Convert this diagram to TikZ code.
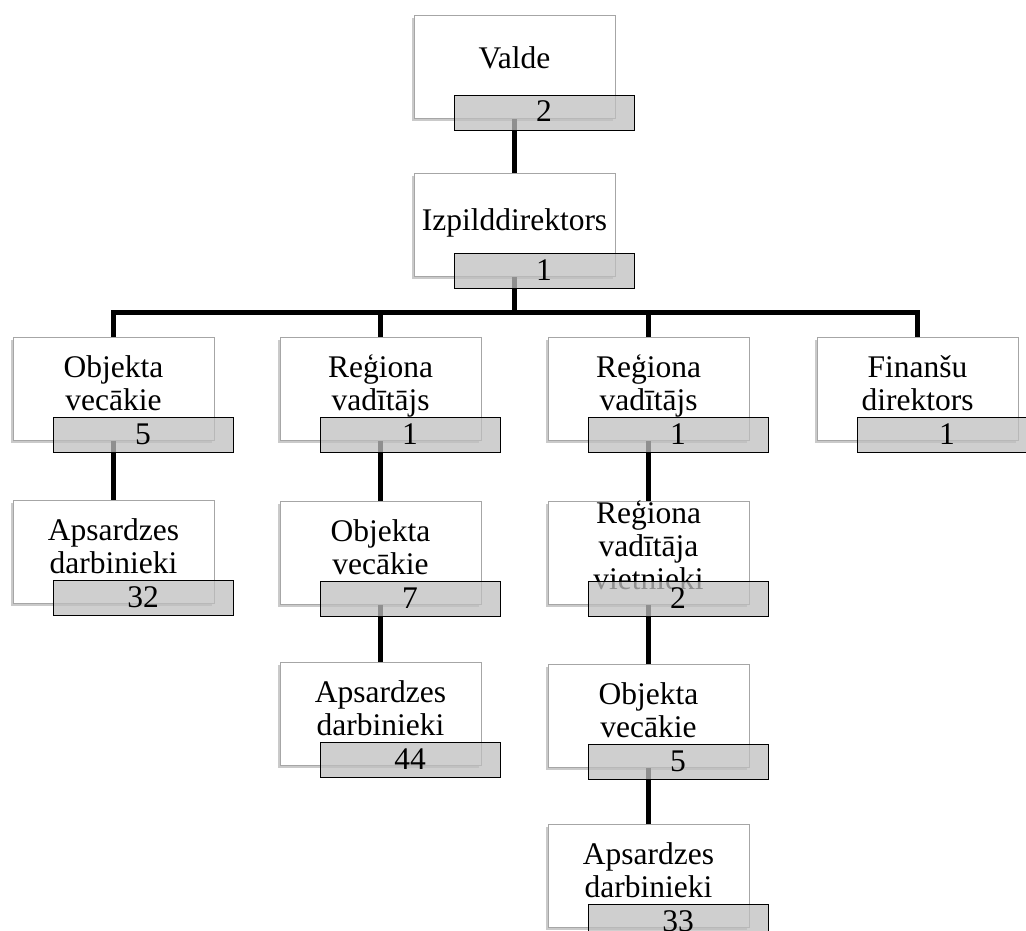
\documentclass[tikz,border=0pt]{standalone}
\usepackage{fontspec}
\setmainfont{Liberation Serif}
\usetikzlibrary{shadows}
\definecolor{boxline}{HTML}{A6A6A6}
\definecolor{numfill}{HTML}{BFBFBF}
\tikzset{
  wbox/.style={rectangle, draw=boxline, line width=0.8pt, fill=white,
    minimum width=201, minimum height=103, anchor=north west, inner sep=0pt,
    drop shadow={shadow xshift=-2pt, shadow yshift=-3pt, opacity=0.35, fill=black!60}},
  gbox/.style={rectangle, draw=black, line width=1.4pt, fill=numfill, fill opacity=0.75,
    text opacity=1, minimum width=180, minimum height=35, anchor=north west, inner sep=0pt},
  lbl/.style={inner sep=0pt, anchor=base, font=\fontsize{31.5}{33}\selectfont},
  numlbl/.style={inner sep=0pt, anchor=base, font=\fontsize{31.5}{33}\selectfont},
  conn/.style={draw=black, line width=5pt}
}
\newcommand\wunit[5]{%
  \node[wbox] (#1) at (#2,#3) {};
  \node[lbl] (#1t) at ([shift={(100.5,#4)}]#1.north west)
    {\begin{tabular}[t]{@{}c@{}}#5\end{tabular}};
}
\newcommand\gunit[2]{%
  \node[gbox] (#1n) at ([shift={(40,80)}]#1.north west) {};
  \node[numlbl] (#1d) at ([shift={(90,27)}]#1n.north west) {#2};
}
\begin{document}
\begin{tikzpicture}[x=1pt,y=-1pt]
\useasboundingbox (0,0) rectangle (1026,931);
\clip (0,0) rectangle (1026,931);
% white boxes with text
\wunit{V}{414}{15}{54}{Valde}
\wunit{I}{414}{173}{57}{Izpilddirektors}
\wunit{A1}{13}{337}{40}{Objekta\\vecākie}
\wunit{A2}{280}{337}{40}{Reģiona\\vadītājs}
\wunit{A3}{548}{337}{40}{Reģiona\\vadītājs}
\wunit{A4}{817}{337}{40}{Finanšu\\direktors}
\wunit{B1}{13}{500}{40}{Apsardzes\\darbinieki}
\wunit{B2}{280}{501}{40}{Objekta\\vecākie}
\wunit{B3}{548}{501}{22}{Reģiona\\vadītāja\\vietnieki}
\wunit{C2}{280}{662}{40}{Apsardzes\\darbinieki}
\wunit{C3}{548}{664}{40}{Objekta\\vecākie}
\wunit{D3}{548}{824}{40}{Apsardzes\\darbinieki}
% connectors
\coordinate (bus) at (514,312);
\draw[conn] (V.south) -- (I.north);
\draw[conn] (I.south) -- (I.south |- bus);
\draw[conn] (A1.north) -- (A1.north |- bus) -- (A4.north |- bus) -- (A4.north);
\draw[conn] (A2.north |- bus) -- (A2.north);
\draw[conn] (A3.north |- bus) -- (A3.north);
\draw[conn] (A1.south) -- (B1.north);
\draw[conn] (A2.south) -- (B2.north);
\draw[conn] (B2.south) -- (C2.north);
\draw[conn] (A3.south) -- (B3.north);
\draw[conn] (B3.south) -- (C3.north);
\draw[conn] (C3.south) -- (D3.north);
% number boxes
\gunit{V}{2}
\gunit{I}{1}
\gunit{A1}{5}
\gunit{A2}{1}
\gunit{A3}{1}
\gunit{A4}{1}
\gunit{B1}{32}
\gunit{B2}{7}
\gunit{B3}{2}
\gunit{C2}{44}
\gunit{C3}{5}
\gunit{D3}{33}
\end{tikzpicture}
\end{document}
